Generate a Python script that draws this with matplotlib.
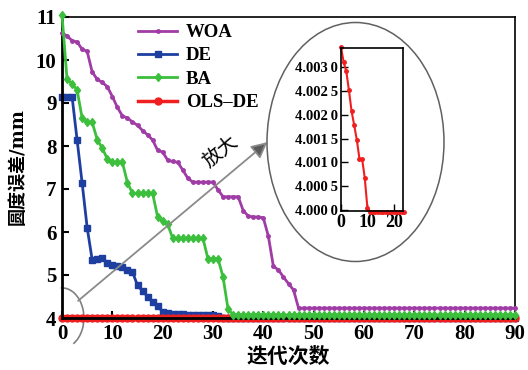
import numpy as np
import matplotlib
matplotlib.use("Agg")
import matplotlib.pyplot as plt
from matplotlib.patches import Ellipse, Arc
from matplotlib.ticker import FixedLocator

iters = list(range(91))

woa = [10.63, 10.56, 10.45, 10.42, 10.25, 10.20, 9.72, 9.55, 9.48, 9.38,
       9.15, 8.90, 8.70, 8.65, 8.56, 8.48, 8.36, 8.26, 8.14, 7.90,
       7.86, 7.67, 7.64, 7.62, 7.44, 7.25, 7.16, 7.16, 7.16, 7.16,
       7.16, 6.98, 6.82, 6.82, 6.82, 6.82, 6.50, 6.37, 6.35, 6.35,
       6.33, 5.90, 5.20, 5.12, 4.95, 4.80, 4.65] + [4.23] * 44

de = [9.15, 9.15, 9.15, 8.14, 7.14, 6.10, 5.35, 5.37, 5.40, 5.28,
      5.23, 5.20, 5.19, 5.12, 5.07, 4.76, 4.63, 4.50, 4.38, 4.27,
      4.15, 4.11, 4.10, 4.10, 4.10, 4.07, 4.07, 4.07, 4.07, 4.07,
      4.07, 4.05] + [4.01] * 59

ba = [11.05, 9.55, 9.45, 9.30, 8.65, 8.55, 8.55, 8.15, 7.95, 7.70,
      7.62, 7.62, 7.62, 7.15, 6.90, 6.90, 6.90, 6.90, 6.90, 6.35,
      6.25, 6.18, 5.85, 5.85, 5.85, 5.85, 5.85, 5.85, 5.85, 5.38,
      5.38, 5.38, 4.95, 4.20, 4.08] + [4.07] * 56

ols_zoom = [4.00343, 4.00311, 4.00292, 4.00252, 4.00208, 4.00178, 4.00147,
            4.00107, 4.00107, 4.00067, 4.00004] + [3.99995] * 14
ols = ols_zoom + [3.99995] * (91 - len(ols_zoom))
zoom_iters = list(range(len(ols_zoom)))

x_ticks = [0, 10, 20, 30, 40, 50, 60, 70, 80, 90]
y_ticks = [4, 5, 6, 7, 8, 9, 10, 11]
inset_yticks = [4.0000, 4.0005, 4.0010, 4.0015, 4.0020, 4.0025, 4.0030]
inset_ylabels = ["4.000\u20090", "4.000\u20095", "4.001\u20090", "4.001\u20095",
                 "4.002\u20090", "4.002\u20095", "4.003\u20090"]
inset_xticks = [0, 10, 20]

series_names = ["WOA", "DE", "BA", "OLS\u2013DE"]
colors = ["#A03CA5", "#1E3FA0", "#3CBF3C", "#F01E1E"]

serif = ["Liberation Serif", "DejaVu Serif"]
mixed = ["Liberation Serif", "Noto Sans CJK SC"]

W, H = 528, 370
fig = plt.figure(figsize=(W / 100, H / 100), dpi=100)
L, R, T, B = 62, 515, 17, 318
ax = fig.add_axes([L / W, 1 - B / H, (R - L) / W, (B - T) / H])

ax.plot(iters, woa, color=colors[0], lw=2, marker="o", ms=2.5, label=series_names[0], clip_on=False, zorder=3)
ax.plot(iters, de, color=colors[1], lw=2, marker="s", ms=4, label=series_names[1], clip_on=False, zorder=2.2)
ax.plot(iters, ba, color=colors[2], lw=2, marker="d", ms=4.5, label=series_names[2], clip_on=False, zorder=3)
ax.plot(iters, ols, color=colors[3], lw=2.5, marker="o", ms=5, label=series_names[3], clip_on=False, zorder=2.4)

ax.set_xlim(0, 90)
ax.set_ylim(4, 11)
ax.xaxis.set_major_locator(FixedLocator(x_ticks))
ax.yaxis.set_major_locator(FixedLocator(y_ticks))
ax.tick_params(direction="in", length=5, width=1.5, pad=4)
for lab in ax.get_xticklabels() + ax.get_yticklabels():
    lab.set_fontfamily(serif)
    lab.set_fontweight("bold")
    lab.set_fontsize(15)
for s in ax.spines.values():
    s.set_linewidth(1.2)
ax.spines["left"].set_linewidth(2)
ax.spines["bottom"].set_linewidth(2)

fig.text(18 / W, 1 - 167 / H, "圆度误差/mm", rotation=90, ha="center", va="center",
         fontsize=13, fontweight="bold", family=["DejaVu Serif", "Noto Sans CJK SC"])
fig.text(288 / W, 1 - 358 / H, "迭代次数", ha="center", va="center",
         fontsize=15, fontweight="bold", family=mixed)

leg = fig.legend(loc="upper left", bbox_to_anchor=(138 / W, 1 - 24 / H),
                 bbox_transform=fig.transFigure, frameon=False, borderpad=0,
                 borderaxespad=0, handlelength=2.1, handletextpad=0.45,
                 labelspacing=0.33,
                 prop={"family": serif, "weight": "bold", "size": 13.5})

# small arc around origin
arc = Arc((0, 4.0), 8.7, 1.4, theta1=-15, theta2=110, color="#808080", lw=1.2, clip_on=False)
ax.add_patch(arc)

# arrow
ax.annotate("", xy=(40.8, 8.09), xytext=(3.2, 4.4),
            arrowprops=dict(arrowstyle="-|>", mutation_scale=24, lw=1.3,
                            ec="#8a8a8a", fc="#5a5a5a", shrinkA=0, shrinkB=0))
ax.text(31.6, 7.85, "放大", rotation=40, ha="center", va="center",
        fontsize=14, family=mixed)

# big ellipse
ell = Ellipse((355.5 / W, 1 - 142 / H), 177 / W, 239 / H, transform=fig.transFigure,
              fill=False, ec="#606060", lw=1.1)
fig.patches.append(ell)

# inset
iL, iR, iT, iB = 341, 403, 48, 211
axi = fig.add_axes([iL / W, 1 - iB / H, (iR - iL) / W, (iB - iT) / H])
axi.plot(zoom_iters, ols_zoom, color=colors[3], lw=1.5, marker="o", ms=2.5, clip_on=False)
axi.set_xlim(0, 23.5)
axi.set_ylim(3.99997, 4.00341)
axi.yaxis.set_major_locator(FixedLocator(inset_yticks))
axi.set_yticklabels(inset_ylabels)
axi.xaxis.set_major_locator(FixedLocator(inset_xticks))
axi.tick_params(direction="in", length=5, width=1, pad=2)
for lab in axi.get_yticklabels():
    lab.set_fontfamily(serif)
    lab.set_fontweight("bold")
    lab.set_fontsize(10.5)
for lab in axi.get_xticklabels():
    lab.set_fontfamily(serif)
    lab.set_fontweight("bold")
    lab.set_fontsize(13)
for s in axi.spines.values():
    s.set_linewidth(1.2)

fig.savefig("out.png", dpi=100)
